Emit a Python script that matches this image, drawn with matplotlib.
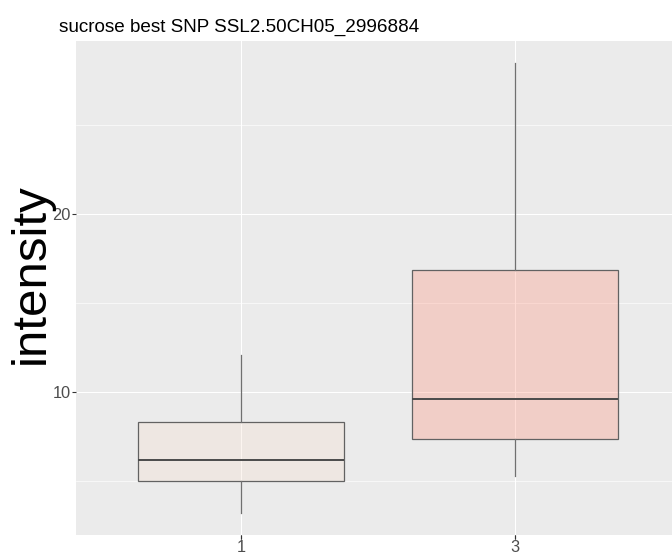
import matplotlib
matplotlib.use("Agg")
import matplotlib.pyplot as plt
from matplotlib.ticker import FixedLocator

# Genotype groups and box statistics of sucrose intensity
groups = ["1", "3"]
whisker_low = [3.24, 5.30]
q1 = [5.04, 7.36]
median = [6.20, 9.62]
q3 = [8.31, 16.89]
whisker_high = [12.08, 28.47]
fill_colors = [(248/255, 222/255, 208/255), (1.0, 142/255, 118/255)]

y_major = [10, 20]
y_minor = [5, 15, 25]

W, H = 672, 553
fig = plt.figure(figsize=(W / 100, H / 100), dpi=100)
plt.rcParams["font.family"] = ["Liberation Sans", "DejaVu Sans"]

# panel placement (right side runs past the figure edge)
left_px, right_px, top_px, bottom_px = 76.4, 679.9, 41, 535
ax = fig.add_axes([left_px / W, 1 - bottom_px / H,
                   (right_px - left_px) / W, (bottom_px - top_px) / H])
ax.set_facecolor("#EBEBEB")
for s in ax.spines.values():
    s.set_visible(False)

positions = list(range(1, len(groups) + 1))
stats = []
for i, g in enumerate(groups):
    stats.append(dict(label=g, whislo=whisker_low[i], q1=q1[i], med=median[i],
                      q3=q3[i], whishi=whisker_high[i], fliers=[]))

# expansion like ggplot: 5% on continuous y, 0.6 on discrete x
lo = min(whisker_low); hi = max(whisker_high)
pad = 0.05 * (hi - lo)
ax.set_ylim(lo - pad, hi + pad)
ax.set_xlim(1 - 0.6, len(groups) + 0.6)

ax.yaxis.set_major_locator(FixedLocator(y_major))
ax.yaxis.set_minor_locator(FixedLocator(y_minor))
ax.set_xticks(positions)
ax.set_xticklabels(groups)
ax.grid(which="major", color="white", linewidth=0.75, zorder=0)
ax.grid(which="minor", axis="y", color="white", linewidth=0.45, zorder=0)
ax.set_axisbelow(True)

bp = ax.bxp(stats, positions=positions, widths=0.75, patch_artist=True,
            showfliers=False, showcaps=False,
            boxprops=dict(edgecolor="#626262", linewidth=0.9),
            whiskerprops=dict(color="#707070", linewidth=0.9),
            medianprops=dict(color="#4a4a4a", linewidth=1.4))
for patch, c in zip(bp["boxes"], fill_colors):
    patch.set_facecolor((*c, 0.3))
    patch.set_zorder(2)

ax.tick_params(axis="both", which="major", length=2.7, width=0.8,
               color="#333333", labelcolor="#4D4D4D", labelsize=11.8, pad=1.2)
ax.tick_params(axis="x", which="major", pad=0.6)
ax.tick_params(axis="y", which="minor", length=0)

fig.text(59 / W, 1 - 31.7 / H, "sucrose best SNP SSL2.50CH05_2996884",
         fontsize=13.6, color="black", ha="left", va="baseline")
fig.text(44 / W, 1 - 274 / H, "intensity", fontsize=35.5, color="black",
         rotation=90, rotation_mode="anchor", ha="center", va="baseline")

fig.savefig("out.png", dpi=100)
